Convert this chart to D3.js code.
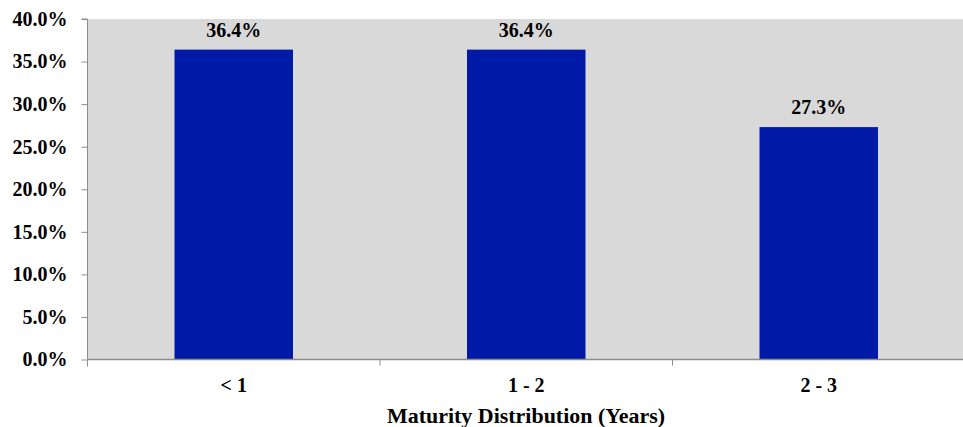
<!DOCTYPE html>
<html>
<head>
<meta charset="utf-8">
<script src="https://cdn.jsdelivr.net/npm/d3@7"></script>
<style>
  html, body { margin: 0; padding: 0; background: #fff; }
  svg { display: block; }
  text { font-family: "Liberation Serif", "Times New Roman", serif; font-weight: bold; fill: #000; }
</style>
</head>
<body>
<svg id="chart" width="963" height="427"></svg>
<script>
// Share of holdings by maturity bucket (percent)
const categories = ["< 1", "1 - 2", "2 - 3"];
const shares = [36.4, 36.4, 27.3];
const yTicks = [0, 5, 10, 15, 20, 25, 30, 35, 40];
const axisTitle = "Maturity Distribution (Years)";

const svg = d3.select("#chart");
const plotLeft = 87.5, plotRight = 965, plotTop = 19, plotBottom = 359.5;
const fontSize = 20;

const x = d3.scaleBand().domain(categories).range([plotLeft, plotRight]).paddingInner(0).paddingOuter(0);
const y = d3.scaleLinear().domain([0, 40]).range([plotBottom, plotTop]);
const barW = x.bandwidth() * 0.405;

// plot background
svg.append("rect")
  .attr("x", plotLeft).attr("y", plotTop)
  .attr("width", plotRight - plotLeft).attr("height", plotBottom - plotTop)
  .attr("fill", "#d9d9d9");

// bars
svg.append("g").selectAll("rect")
  .data(categories)
  .join("rect")
  .attr("x", (d) => x(d) + (x.bandwidth() - barW) / 2)
  .attr("y", (d, i) => y(shares[i]))
  .attr("width", barW)
  .attr("height", (d, i) => y(0) - y(shares[i]))
  .attr("fill", "#0019a6");

// value labels
svg.append("g").selectAll("text")
  .data(categories)
  .join("text")
  .attr("x", (d) => x(d) + x.bandwidth() / 2)
  .attr("y", (d, i) => y(shares[i]) - 13)
  .attr("text-anchor", "middle")
  .attr("font-size", fontSize)
  .text((d, i) => shares[i].toFixed(1) + "%");

// y axis
const yAxis = svg.append("g")
  .attr("transform", `translate(${plotLeft},0)`)
  .call(d3.axisLeft(y).tickValues(yTicks).tickSize(6).tickPadding(14)
    .tickFormat((d) => d.toFixed(1) + "%"));
yAxis.select(".domain").attr("stroke", "#8c8c8c").attr("d", `M-6,${plotTop}H0V${plotBottom + 7}`);
yAxis.selectAll(".tick line").attr("stroke", "#8c8c8c");
yAxis.selectAll(".tick text").attr("font-size", fontSize).attr("font-family", null).attr("fill", "#000");

// x axis: baseline with ticks at band boundaries
const xg = svg.append("g");
xg.append("line")
  .attr("x1", plotLeft).attr("x2", plotRight)
  .attr("y1", plotBottom).attr("y2", plotBottom)
  .attr("stroke", "#8c8c8c").attr("stroke-width", 1.5);
xg.selectAll("line.sep")
  .data(categories.slice(1))
  .join("line")
  .attr("class", "sep")
  .attr("x1", (d) => x(d)).attr("x2", (d) => x(d))
  .attr("y1", plotBottom).attr("y2", plotBottom + 6)
  .attr("stroke", "#8c8c8c");
xg.selectAll("text")
  .data(categories)
  .join("text")
  .attr("x", (d) => x(d) + x.bandwidth() / 2)
  .attr("y", 392)
  .attr("text-anchor", "middle")
  .attr("font-size", fontSize)
  .text((d) => d);

// axis title
svg.append("text")
  .attr("x", 526)
  .attr("y", 423)
  .attr("text-anchor", "middle")
  .attr("font-size", fontSize)
  .attr("textLength", 278)
  .attr("lengthAdjust", "spacingAndGlyphs")
  .text(axisTitle);
</script>
</body>
</html>
